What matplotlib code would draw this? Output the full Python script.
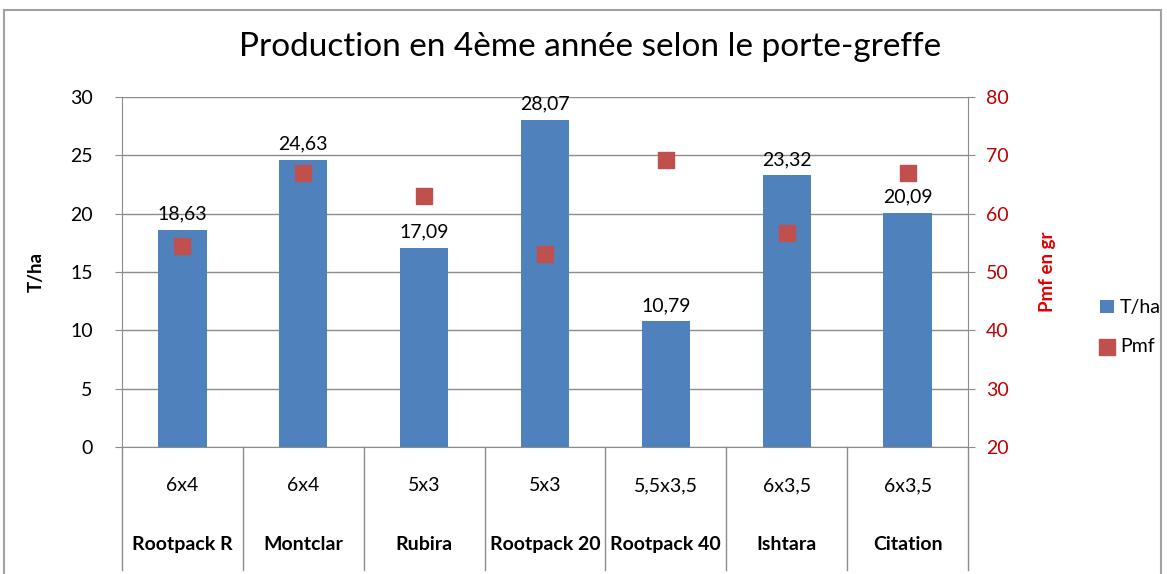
import matplotlib.pyplot as plt
from matplotlib.patches import Rectangle
from matplotlib.lines import Line2D
import numpy as np

plt.rcParams['font.family'] = ['Lato', 'DejaVu Sans']

porte_greffe = ['Rootpack R', 'Montclar', 'Rubira', 'Rootpack 20', 'Rootpack 40', 'Ishtara', 'Citation']
densite = ['6x4', '6x4', '5x3', '5x3', '5,5x3,5', '6x3,5', '6x3,5']
t_ha = [18.63, 24.63, 17.09, 28.07, 10.79, 23.32, 20.09]
pmf = [54.5, 67.0, 63.0, 53.0, 69.2, 56.6, 67.0]

blue = '#4F81BD'
red = '#C0504D'
grid_c = '#8C8C8C'

fig = plt.figure(figsize=(11.67, 5.74), dpi=100)
ax = fig.add_axes([0.1045, 0.2213, 0.725, 0.6097])
ax2 = ax.twinx()

x = np.arange(len(porte_greffe))
ax.bar(x, t_ha, width=0.4, color=blue, zorder=2, label='T/ha')
ax2.scatter(x, pmf, marker='s', s=120, color=red, zorder=3, label='Pmf')

for xi, v in zip(x, t_ha):
    ax.text(xi, v + 0.6, f'{v:.2f}'.replace('.', ','), ha='center', va='bottom', fontsize=14)

ax.set_xlim(-0.5, len(x) - 0.5)
ax.set_ylim(0, 30)
ax.set_yticks(range(0, 31, 5))
ax2.set_ylim(20, 80)
ax2.set_yticks(range(20, 81, 10))
ax.yaxis.grid(True, color=grid_c, lw=1, zorder=0)
ax.set_axisbelow(True)

for a in (ax, ax2):
    for s in a.spines.values():
        s.set_visible(False)
ax.spines['left'].set_visible(True)
ax.spines['left'].set_color(grid_c)
ax.spines['bottom'].set_visible(True)
ax.spines['bottom'].set_color(grid_c)
ax2.spines['right'].set_visible(True)
ax2.spines['right'].set_color(grid_c)

ax.tick_params(axis='y', labelsize=14, length=5, color=grid_c, pad=16)
ax2.tick_params(axis='y', labelsize=14, length=5, color=grid_c, labelcolor='#C00000', pad=8)
ax.set_xticks([])

ax.set_ylabel('T/ha', fontsize=13.5, fontweight='bold', labelpad=18)
ax2.set_ylabel('Pmf en gr', fontsize=13.5, fontweight='bold', color='#E00000', labelpad=22)

# category axis (two levels)
trans = ax.get_xaxis_transform()
for b in np.arange(-0.5, len(x), 1.0):
    ax.add_line(Line2D([b, b], [0, -0.351], transform=trans, color=grid_c, lw=1, clip_on=False))
for xi, d, n in zip(x, densite, porte_greffe):
    ax.text(xi, -0.11, d, transform=trans, ha='center', va='center', fontsize=14)
    ax.text(xi, -0.28, n, transform=trans, ha='center', va='center', fontsize=14, fontweight='bold')

fig.suptitle('Production en 4ème année selon le porte-greffe', x=0.506, y=0.918, va='center',
             fontsize=24, fontweight='normal')

h1, l1 = ax.get_legend_handles_labels()
h2, l2 = ax2.get_legend_handles_labels()
fig.legend(h1 + h2, l1 + l2, loc='center left', bbox_to_anchor=(0.928, 0.43), frameon=False,
           fontsize=14, handlelength=0.7, handleheight=0.7, handletextpad=0.3, labelspacing=1.1)

fig.patches.append(Rectangle((4 / 1167, -0.05), 1157 / 1167, 0.9826 + 0.05, transform=fig.transFigure,
                             fill=False, edgecolor='#A0A0A0', lw=1.5))

fig.savefig('out.png', dpi=100)
